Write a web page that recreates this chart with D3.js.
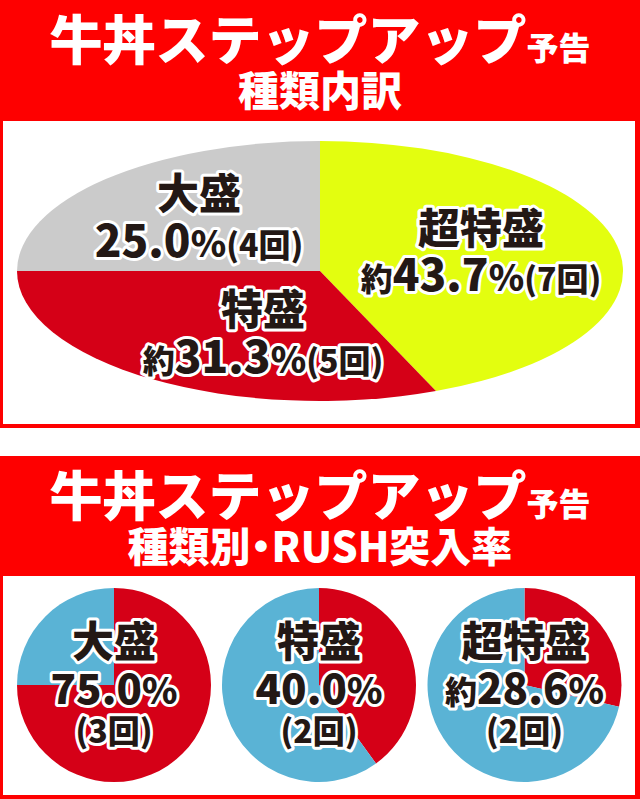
<!DOCTYPE html>
<html><head><meta charset="utf-8">
<script src="https://cdn.jsdelivr.net/npm/d3@7"></script>
<style>html,body{margin:0;padding:0;background:#fff;overflow:hidden}</style>
</head><body><svg id="c" width="640" height="799"></svg>
<script>
// ---- data ----
const titleMain = "牛丼ステップアップ";
const titleSuffix = "予告";
const subtitle1 = ["種類内訳"];
const subtitle2 = ["種類別", "・", "RUSH突入率"];

const breakdownCategories = ["超特盛", "特盛", "大盛"];
const breakdownCounts = [7, 5, 4];
const breakdownPercents = ["43.7", "31.3", "25.0"];
const breakdownApprox = [true, true, false];

const rushCategories = ["大盛", "特盛", "超特盛"];
const rushRates = [75.0, 40.0, 28.6];
const rushRateLabels = ["75.0", "40.0", "28.6"];
const rushCounts = [3, 2, 2];
const rushApprox = [false, false, true];

// ---- styles / layout ----
const RED_BG = "#fe0000";
const PIE_RED = "#d50017";
const BLUE = "#5ab3d5";
const catColor = d3.scaleOrdinal().domain(breakdownCategories).range(["#e3fe0f", PIE_RED, "#cbcbcb"]);
const FONT = "'Noto Sans CJK JP','Noto Sans CJK SC',sans-serif";
const INK = "#231815";

const svg = d3.select("#c");
svg.append("rect").attr("width", 640).attr("height", 799).attr("fill", "#fff");

function panel(y0, y1, innerTop) {
  svg.append("rect").attr("x", 0).attr("y", y0).attr("width", 640).attr("height", y1 - y0).attr("fill", RED_BG);
  svg.append("rect").attr("x", 3).attr("y", innerTop).attr("width", 632).attr("height", y1 - 4 - innerTop).attr("fill", "#fff");
}
panel(0, 428, 121);
panel(456, 799, 576);

function header(offset, sub) {
  const t = svg.append("text").attr("x", 320).attr("y", offset + 59.5)
    .attr("text-anchor", "middle").attr("fill", "#fff")
    .attr("font-family", FONT).attr("font-weight", 900);
  t.append("tspan").attr("font-size", 53).text(titleMain);
  t.append("tspan").attr("font-size", 32).text(titleSuffix);
  const s = svg.append("text").attr("x", 320).attr("y", offset + 106)
    .attr("text-anchor", "middle").attr("fill", "#fff")
    .attr("font-family", FONT).attr("font-weight", 900).attr("font-size", 41);
  sub.forEach(p => s.append("tspan").attr("dx", p === "・" ? -10 : (sub.length > 1 && p !== sub[0] ? -10 : 0)).text(p));
}
header(0, subtitle1);
header(456, subtitle2);

function outlined(x, y, parts) {
  const t = svg.append("text").attr("x", x).attr("y", y).attr("text-anchor", "middle")
    .attr("font-family", FONT).attr("font-weight", 900).attr("fill", INK)
    .attr("stroke", "#fff").attr("stroke-width", 6).attr("stroke-linejoin", "round")
    .attr("paint-order", "stroke");
  parts.forEach(p => t.append("tspan").attr("font-size", p.s).text(p.t));
  return t;
}

// ---- top ellipse pie ----
const ell = { cx: 320, cy: 271, rx: 303, ry: 130 };
const pie = d3.pie().sort(null).value(d => d.v);
const topData = breakdownCategories.map((c, i) => ({ c, v: breakdownCounts[i] }));
const arcTop = d3.arc().innerRadius(0).outerRadius(ell.ry);
svg.append("g").attr("transform", `translate(${ell.cx},${ell.cy}) scale(${ell.rx / ell.ry},1)`)
  .selectAll("path").data(pie(topData)).join("path")
  .attr("d", arcTop).attr("fill", d => catColor(d.data.c));

const topLabelPos = { "超特盛": [481, 244, 291], "特盛": [263, 325, 373], "大盛": [199, 209, 257] };
breakdownCategories.forEach((c, i) => {
  const [x, y1, y2] = topLabelPos[c];
  outlined(x, y1, [{ t: c, s: 42 }]);
  const parts = [];
  if (breakdownApprox[i]) parts.push({ t: "約", s: 32 });
  parts.push({ t: breakdownPercents[i], s: 44 });
  parts.push({ t: "%", s: 36 });
  parts.push({ t: "(" + breakdownCounts[i] + "回)", s: 32 });
  outlined(x, y2, parts);
});

// ---- RUSH pies ----
const rushCx = [114, 319, 524.5];
const rushCy = 685, rushR = 97;
const arcR = d3.arc().innerRadius(0).outerRadius(rushR);
rushCategories.forEach((c, i) => {
  const g = svg.append("g").attr("transform", `translate(${rushCx[i]},${rushCy})`);
  const data = [{ k: "hit", v: rushRates[i] }, { k: "miss", v: 100 - rushRates[i] }];
  g.selectAll("path").data(pie(data)).join("path")
    .attr("d", arcR).attr("fill", d => d.data.k === "hit" ? PIE_RED : BLUE);
  outlined(rushCx[i], 657, [{ t: c, s: 42 }]);
  const parts = [];
  if (rushApprox[i]) parts.push({ t: "約", s: 32 });
  parts.push({ t: rushRateLabels[i], s: 42 });
  parts.push({ t: "%", s: 36 });
  outlined(rushCx[i], 704, parts);
  outlined(rushCx[i], 743, [{ t: "(" + rushCounts[i] + "回)", s: 32 }]);
});
</script></body></html>
